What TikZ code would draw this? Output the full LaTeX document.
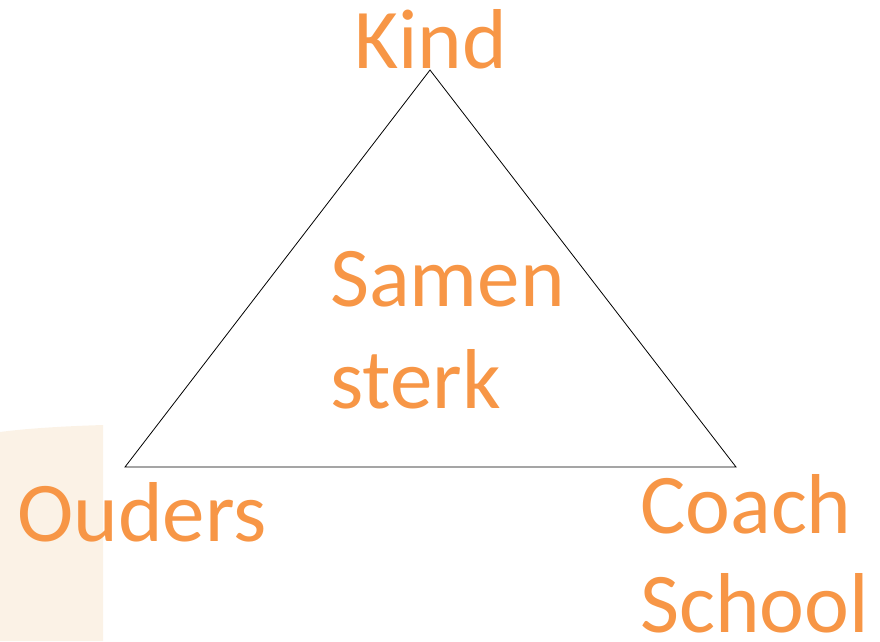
\documentclass[tikz,border=0pt]{standalone}
\usepackage{fontspec}
\setmainfont{Carlito}
\definecolor{accent}{HTML}{F79646}
\definecolor{cream}{HTML}{FBF2E6}
\begin{document}
\begin{tikzpicture}[x=1pt,y=-1pt,
  lbl/.style={text=accent,inner sep=0pt,anchor=base west,font=\fontsize{85}{100}\selectfont,align=left},
  edge/.style={draw=black,line width=0.8pt}]
\useasboundingbox (0,0) rectangle (880,641);
\fill[cream] (0,432) .. controls (30,428) and (70,426) .. (103,425) -- (103,641) -- (0,641) -- cycle;
\coordinate (top) at (430,70);
\coordinate (bl) at (125,467);
\coordinate (br) at (736,467);
\draw[edge,line join=miter] (top) -- (br) -- (bl) -- cycle;
\node[lbl] (kind) at (354,68) {Kind};
\node[lbl] (samen) at (330,306) {Samen};
\node[lbl] (sterk) at (330,408) {sterk};
\node[lbl] (ouders) at (17,541) {Ouders};
\node[lbl] (coach) at (640,533) {Coach};
\node[lbl] (school) at (640,632) {School};
\end{tikzpicture}
\end{document}
